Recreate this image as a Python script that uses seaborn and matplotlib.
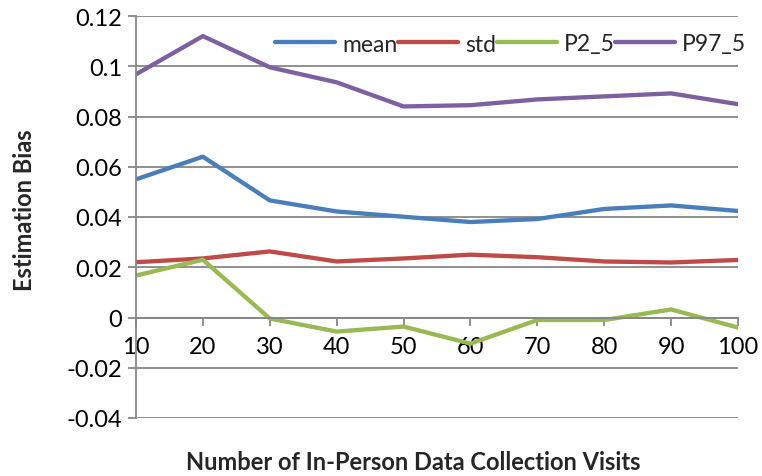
import matplotlib
matplotlib.use("Agg")
import matplotlib.pyplot as plt
from matplotlib import font_manager as fm
import pandas as pd
import seaborn as sns

visits = [10, 20, 30, 40, 50, 60, 70, 80, 90, 100]
mean = [0.055, 0.064, 0.0466, 0.0422, 0.0401, 0.0380, 0.0392, 0.0432, 0.0446, 0.0424]
std = [0.0220, 0.0235, 0.0263, 0.0223, 0.0235, 0.0250, 0.0240, 0.0223, 0.0219, 0.0229]
p2_5 = [0.0167, 0.0230, -0.0004, -0.0056, -0.0036, -0.0104, -0.0010, -0.0010, 0.0032, -0.0040]
p97_5 = [0.0968, 0.1120, 0.0996, 0.0936, 0.0840, 0.0845, 0.0868, 0.0880, 0.0892, 0.0849]

series_names = ["mean", "std", "P2_5", "P97_5"]
colors = ["#4A7EBB", "#BE4B48", "#98B954", "#7D60A0"]
y_ticks = [-0.04, -0.02, 0, 0.02, 0.04, 0.06, 0.08, 0.1, 0.12]
y_tick_labels = ["-0.04", "-0.02", "0", "0.02", "0.04", "0.06", "0.08", "0.1", "0.12"]

df = pd.DataFrame({
    "visits": visits * 4,
    "value": mean + std + p2_5 + p97_5,
    "series": [s for s in series_names for _ in visits],
})


def has_bold(name):
    for f in fm.fontManager.ttflist:
        w = f.weight if isinstance(f.weight, int) else {"bold": 700}.get(f.weight, 400)
        if f.name == name and w >= 700:
            return True
    return False


sns.set_style("white")
plt.rcParams["font.family"] = ["Lato", "DejaVu Sans"]
bold_family = ["Lato"] if has_bold("Lato") else ["Open Sans", "Noto Sans", "DejaVu Sans"]
grid_col = "#878787"

fig = plt.figure(figsize=(7.62, 4.77), dpi=100)
ax = fig.add_axes([136 / 762, 1 - 419 / 477, 602 / 762, 402 / 477])

sns.lineplot(data=df, x="visits", y="value", hue="series", hue_order=series_names,
             palette=colors, linewidth=3.1, ax=ax, legend=True)

ax.set_xlim(10, 100)
ax.set_ylim(-0.04, 0.12)
ax.set_yticks(y_ticks)
ax.set_yticklabels(y_tick_labels)
ax.set_xticks(visits)
ax.set_xticklabels([str(v) for v in visits])

for y in y_ticks:
    ax.axhline(y, color=grid_col, lw=1.3, zorder=0)

ax.spines["bottom"].set_position(("data", 0))
ax.spines["bottom"].set_color(grid_col)
ax.spines["bottom"].set_linewidth(1.3)
ax.spines["left"].set_color(grid_col)
ax.spines["left"].set_linewidth(1.3)
ax.spines["top"].set_visible(False)
ax.spines["right"].set_visible(False)

ax.tick_params(axis="x", direction="out", length=6, width=1.3, color=grid_col,
               pad=7, labelsize=17, labelcolor="black")
ax.tick_params(axis="y", direction="out", length=6, width=1.3, color=grid_col,
               pad=4, labelsize=17, labelcolor="black")
ax.tick_params(axis="both", which="both", bottom=True, left=True)

ax.set_xlabel("Number of In-Person Data Collection Visits", fontsize=17,
              fontweight="bold", family=bold_family, va="center")
ax.xaxis.set_label_coords(0.461, -0.108)
ax.set_ylabel("Estimation Bias", fontsize=17, fontweight="bold",
              family=bold_family, va="center")
ax.yaxis.set_label_coords(-0.186, 0.52)

handles, labels = ax.get_legend_handles_labels()
ax.legend(handles, labels, ncol=4, frameon=False, loc="center right",
          bbox_to_anchor=(746 / 762, 1 - 45 / 477), bbox_transform=fig.transFigure,
          handlelength=2.6, handletextpad=0.3, columnspacing=0.05, borderpad=0,
          borderaxespad=0, fontsize=16.5)

fig.savefig("out.png", dpi=100)
